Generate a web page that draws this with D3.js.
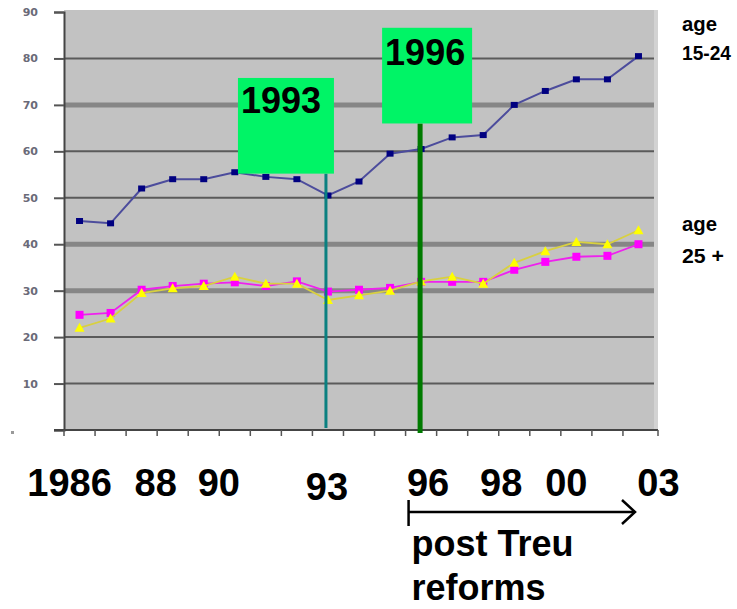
<!DOCTYPE html>
<html><head><meta charset="utf-8">
<script src="https://cdn.jsdelivr.net/npm/d3@7"></script>
<style>
html,body{margin:0;padding:0;background:#fff;}
svg{display:block;}
</style></head>
<body>
<svg id="chart" width="737" height="609"></svg>
<script>
// ---- data ----
const years = [1985,1986,1987,1988,1989,1990,1991,1992,1993,1994,1995,1996,1997,1998,1999,2000,2001,2002,2003];
const youth15to24 = [45,44.5,52,54,54,55.5,54.5,54,50.5,53.5,59.5,60.5,63,63.5,70,73,75.5,75.5,80.5];
const adult25Magenta = [24.8,25.2,30.2,31,31.5,31.8,31,32,29.8,30.2,30.6,31.9,31.9,31.9,34.5,36.2,37.3,37.5,40];
const adult25Yellow = [22,24,29.5,30.5,31,33,31.5,31.5,28,29,30,32,33,31.5,36,38.5,40.5,40,43];
const yTicks = [0,10,20,30,40,50,60,70,80,90];
const xLabelYears = [1986,1988,1990,1993,1996,1998,2000,2003];
const xLabelText = ["1986","88","90","93","96","98","00","03"];
const markerYears = [1993,1996];
const markerText = ["1993","1996"];

// ---- layout ----
const svg = d3.select("#chart");
const L = 64, R = 654, T = 12, B = 430;
const x = d3.scaleBand().domain(years).range([L, R]).padding(0);
const y = d3.scaleLinear().domain([0, 90]).range([B, T]);
const cx = yr => x(yr) + x.bandwidth() / 2;

// plot background
svg.append("rect").attr("x", L).attr("y", T - 2).attr("width", R - L + 4).attr("height", B - T + 2).attr("fill", "#d2d2d2");
svg.append("rect").attr("x", L).attr("y", T - 2).attr("width", R - L).attr("height", B - T + 2).attr("fill", "#c2c2c2");

// gridlines
const thick = new Set([70, 40, 30]);
svg.append("g").selectAll("line").data(yTicks.filter(d => d > 0 && d < 90)).join("line")
  .attr("x1", L).attr("x2", R).attr("y1", d => y(d)).attr("y2", d => y(d))
  .attr("stroke", d => thick.has(d) ? "#868686" : "#5a5a5a")
  .attr("stroke-width", d => thick.has(d) ? 5 : 2);

// y axis
const gy = svg.append("g").attr("transform", `translate(${L},0)`)
  .call(d3.axisLeft(y).tickValues(yTicks).tickSize(10).tickFormat(d => d === 0 ? "" : d));
gy.select(".domain").attr("stroke", "#444").attr("stroke-width", 2);
gy.selectAll(".tick line").attr("stroke", "#555").attr("stroke-width", 2);
gy.selectAll(".tick text").attr("x", -26).attr("font-family", "DejaVu Sans, sans-serif")
  .attr("font-size", 11).attr("font-weight", "bold").attr("fill", "#6a6a78");
svg.append("rect").attr("x", 11).attr("y", y(0) + 1).attr("width", 3).attr("height", 3).attr("fill", "#999");

// x axis
const gx = svg.append("g").attr("transform", `translate(0,${B})`);
gx.append("line").attr("x1", 54).attr("x2", R + 4).attr("y1", 0).attr("y2", 0).attr("stroke", "#444").attr("stroke-width", 2);
gx.selectAll("line.tk").data(years.concat([null])).join("line").attr("class", "tk")
  .attr("x1", (d, i) => i < years.length ? x(d) : R + 4).attr("x2", (d, i) => i < years.length ? x(d) : R + 4)
  .attr("y1", 0).attr("y2", 6).attr("stroke", "#555").attr("stroke-width", 1.5);

// series
function series(vals, lineColor, lw, markerFn) {
  const pts = years.map((yr, i) => [cx(yr), y(vals[i])]);
  svg.append("path").attr("d", d3.line()(pts)).attr("fill", "none").attr("stroke", lineColor).attr("stroke-width", lw);
  markerFn(svg.append("g").selectAll("g").data(pts).join("g").attr("transform", d => `translate(${d[0]},${d[1]})`));
}
series(youth15to24, "#4c4c9c", 2, g => g.append("rect").attr("x", -3.5).attr("y", -3).attr("width", 7).attr("height", 6).attr("fill", "#000080"));
series(adult25Magenta, "#ee22ee", 1.8, g => g.append("rect").attr("x", -4).attr("y", -4).attr("width", 8).attr("height", 8).attr("fill", "#ff00ff"));
series(adult25Yellow, "#d8d040", 1.8, g => g.append("path").attr("d", "M0,-5L5,4L-5,4Z").attr("fill", "#ffff00"));

// 1993 / 1996 markers
const boxW = [96, 90], boxTop = [75.8, 86.6], boxBot = [55.2, 66], lineCol = ["#0a8080", "#007a00"], lineW = [3, 5], boxDx = [-88, -38];
markerYears.forEach((yr, i) => {
  const lx = cx(yr) - (i === 0 ? 2 : 1);
  svg.append("line").attr("x1", lx).attr("x2", lx).attr("y1", y(boxBot[i])).attr("y2", B + (i === 0 ? -2 : 3))
    .attr("stroke", lineCol[i]).attr("stroke-width", lineW[i]);
  const bx = lx + boxDx[i];
  svg.append("rect").attr("x", bx).attr("y", y(boxTop[i])).attr("width", boxW[i]).attr("height", y(boxBot[i]) - y(boxTop[i]))
    .attr("fill", "#00f466");
  svg.append("text").attr("x", bx + 3).attr("y", y(boxTop[i]) + (i === 0 ? 35 : 37))
    .attr("font-family", "Liberation Sans, Arial, sans-serif").attr("font-weight", "bold").attr("font-size", 36)
    .attr("fill", "#000").text(markerText[i]);
});

// x labels (hand-placed annotations)
const labelDx = [-41, -17, -16, -1, 7, 18, 21, 20];
const labelDy = [496, 496, 496, 500, 496, 496, 496, 496];
svg.append("g").selectAll("text").data(xLabelYears).join("text")
  .attr("x", (d, i) => cx(d) + labelDx[i]).attr("y", (d, i) => labelDy[i]).attr("text-anchor", "middle")
  .attr("font-family", "Liberation Sans, Arial, sans-serif").attr("font-weight", "bold").attr("font-size", 38)
  .attr("fill", "#000").text((d, i) => xLabelText[i]);

// post-reform arrow
const ax0 = x(1996) + 3, ax1 = 635, ay = 512;
svg.append("line").attr("x1", ax0).attr("x2", ax0).attr("y1", 500).attr("y2", 526).attr("stroke", "#000").attr("stroke-width", 2.5);
svg.append("line").attr("x1", ax0).attr("x2", ax1).attr("y1", ay).attr("y2", ay).attr("stroke", "#000").attr("stroke-width", 2.5);
svg.append("path").attr("d", `M${ax1 - 13},${ay - 12}L${ax1},${ay}L${ax1 - 13},${ay + 12}`).attr("fill", "none").attr("stroke", "#000").attr("stroke-width", 2.5);
svg.append("text").attr("x", ax0 + 3).attr("y", 556).attr("font-family", "Liberation Sans, Arial, sans-serif")
  .attr("font-weight", "bold").attr("font-size", 36).text("post Treu");
svg.append("text").attr("x", ax0 + 3).attr("y", 600).attr("font-family", "Liberation Sans, Arial, sans-serif")
  .attr("font-weight", "bold").attr("font-size", 36).text("reforms");

// right-side series labels
const rightLabels = [["age", 31, 35], ["15-24", 60, 49], ["age", 231, 35], ["25 +", 263, 42]];
svg.append("g").selectAll("text").data(rightLabels).join("text")
  .attr("x", 682).attr("y", d => d[1])
  .attr("font-family", "Liberation Sans, Arial, sans-serif")
  .attr("font-weight", "bold").attr("font-size", 21).attr("fill", "#000")
  .attr("textLength", d => d[2]).attr("lengthAdjust", "spacingAndGlyphs").text(d => d[0]);
</script>
</body></html>
